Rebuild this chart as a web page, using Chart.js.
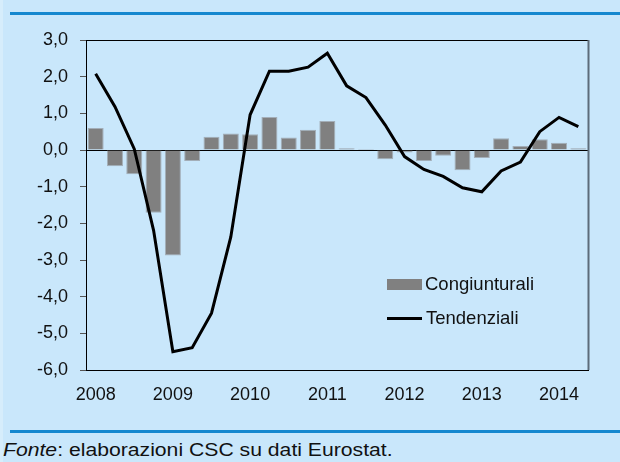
<!DOCTYPE html>
<html>
<head>
<meta charset="utf-8">
<script src="https://cdn.jsdelivr.net/npm/chart.js@4/dist/chart.umd.min.js"></script>
<style>
  html, body { margin:0; padding:0; }
  body { width:620px; height:462px; background:#c9e7fb; position:relative; overflow:hidden; font-family:"Liberation Sans", Arial, sans-serif; }
  #strip { position:absolute; left:0; top:0; width:3px; height:462px; background:#d6edfb; }
  .rule { position:absolute; left:10px; width:610px; height:3px; background:#1588cf; }
  #title { position:absolute; left:0; width:626px; text-align:center; top:-16px; font-size:15px; line-height:15px; color:#222; white-space:nowrap; }
  #foot { position:absolute; left:3px; top:442px; font-size:17.5px; line-height:17.5px; color:#111; white-space:nowrap; transform:scaleX(1.21); transform-origin:0 0; }
  canvas { position:absolute; left:0; top:0; }
</style>
</head>
<body>
<div id="strip"></div>
<div id="title">(var. %, prezzi costanti)</div>
<div class="rule" style="top:12px"></div>
<div class="rule" style="top:430px"></div>
<div id="foot"><i>Fonte</i>: elaborazioni CSC su dati Eurostat.</div>
<canvas id="c" width="620" height="462"></canvas>
<script>
// Quarters 2008 T1 .. 2014 T2
const years = ['2008','2009','2010','2011','2012','2013','2014'];
const quarters = [];
for (const y of years) for (let q = 1; q <= 4; q++) quarters.push(y + ' T' + q);
quarters.length = 26;

const congiunturali = [0.60, -0.44, -0.66, -1.71, -2.88, -0.30, 0.36, 0.45, 0.43, 0.90, 0.34, 0.55, 0.79, 0.05,
                       0.03, -0.25, -0.07, -0.30, -0.16, -0.55, -0.22, 0.32, 0.11, 0.29, 0.20, 0.05];
const tendenziali = [2.08, 1.18, 0.03, -2.19, -5.50, -5.39, -4.45, -2.37, 0.96, 2.15, 2.15, 2.26, 2.64, 1.75,
                     1.43, 0.68, -0.18, -0.53, -0.72, -1.03, -1.14, -0.57, -0.33, 0.50, 0.89, 0.64];
const seriesNames = ['Congiunturali', 'Tendenziali'];
const yMin = -6, yMax = 3;

const FONT = '"Liberation Sans", Arial, sans-serif';

const framePlugin = {
  id: 'frame',
  afterDatasetsDraw(chart) {
    const {ctx, chartArea: a} = chart;
    const bars = chart.data.datasets.find(d => d.type === 'bar');
    const line = chart.data.datasets.find(d => d.type === 'line');
    ctx.save();
    // right border
    ctx.strokeStyle = '#5d6c7a';
    ctx.lineWidth = 2;
    ctx.beginPath();
    ctx.moveTo(a.right + 0.5, a.top);
    ctx.lineTo(a.right + 0.5, a.bottom);
    ctx.stroke();
    // legend
    const lx = 387;
    ctx.fillStyle = bars.backgroundColor;
    ctx.fillRect(lx, 279, 35, 11);
    ctx.strokeStyle = line.borderColor;
    ctx.lineWidth = 3;
    ctx.beginPath();
    ctx.moveTo(lx, 318.5);
    ctx.lineTo(lx + 35, 318.5);
    ctx.stroke();
    ctx.fillStyle = '#111';
    ctx.font = '18.5px ' + FONT;
    ctx.textBaseline = 'middle';
    ctx.textAlign = 'left';
    ctx.fillText(bars.label, lx + 38, 285);
    ctx.fillText(line.label, lx + 39, 319);
    ctx.restore();
  }
};

new Chart(document.getElementById('c'), {
  data: {
    labels: quarters,
    datasets: [
      {
        type: 'line',
        label: seriesNames[1],
        data: tendenziali,
        borderColor: '#000',
        borderWidth: 3,
        pointRadius: 0,
        tension: 0,
        order: 0
      },
      {
        type: 'bar',
        label: seriesNames[0],
        data: congiunturali,
        backgroundColor: '#808080',
        borderColor: '#a3aeb8',
        borderWidth: 1,
        categoryPercentage: 1,
        barPercentage: 0.83,
        order: 1
      }
    ]
  },
  options: {
    responsive: false,
    animation: false,
    layout: { padding: { top: 40, right: 32, left: 0, bottom: 0 } },
    plugins: { legend: { display: false }, tooltip: { enabled: false }, title: { display: false } },
    scales: {
      x: {
        type: 'category',
        offset: true,
        grid: { display: true, drawOnChartArea: false, drawTicks: false, color: 'transparent' },
        border: { display: true, color: '#000', width: 1 },
        ticks: {
          autoSkip: false, maxRotation: 0, minRotation: 0, padding: 14,
          color: '#111', font: { family: FONT, size: 18 },
          callback: function(v, i) { return i % 4 === 0 ? this.getLabelForValue(v).slice(0, 4) : ''; }
        },
        afterFit(s) { s.height = 92; }
      },
      y: {
        min: yMin, max: yMax,
        grid: {
          drawOnChartArea: true, drawTicks: true, tickLength: 6,
          color: ctx => (ctx.tick && (ctx.tick.value === 0 || ctx.tick.value === yMax)) ? '#000' : 'transparent',
          tickColor: '#555', lineWidth: 1
        },
        border: { display: true, color: '#000', width: 1 },
        ticks: {
          stepSize: 1, padding: 12, color: '#111', font: { family: FONT, size: 18 },
          callback: v => v.toFixed(1).replace('.', ',')
        },
        afterFit(s) { s.width = 86; }
      }
    }
  },
  plugins: [framePlugin]
});
</script>
</body>
</html>
